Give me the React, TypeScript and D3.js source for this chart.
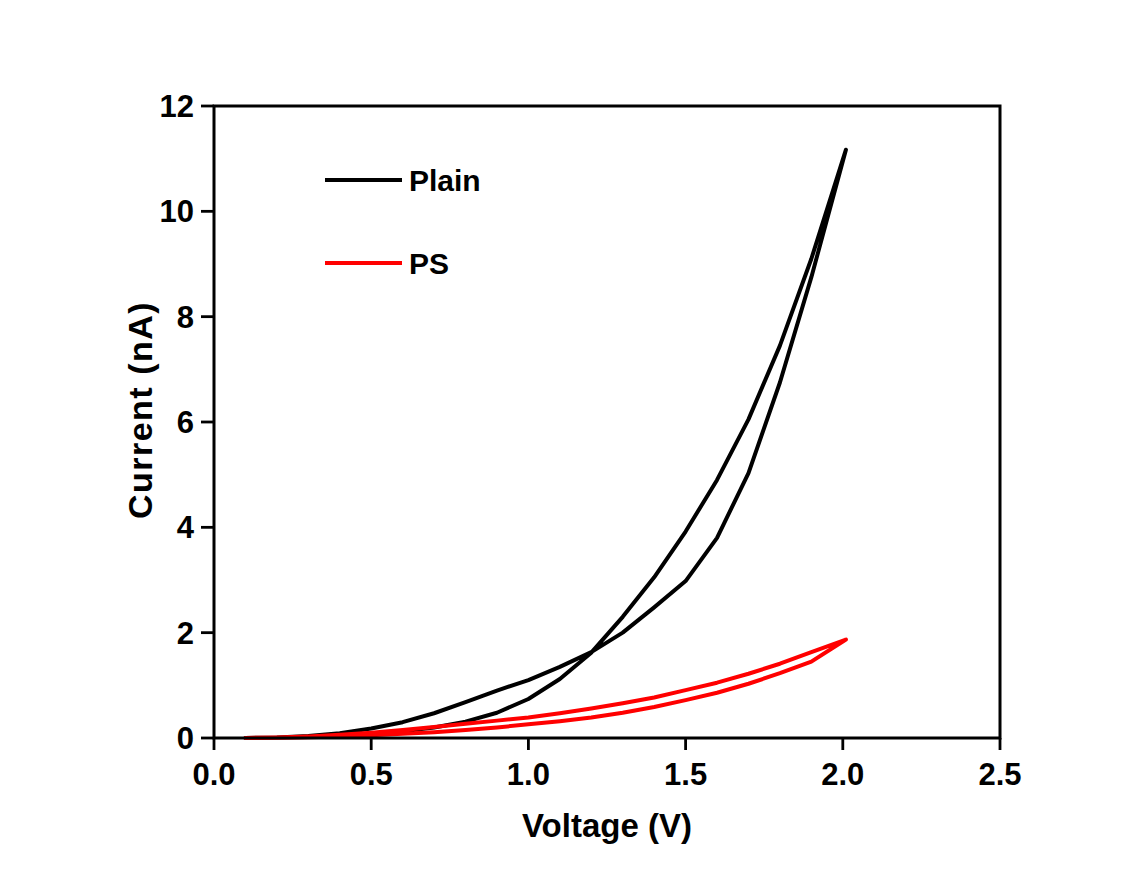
import React from "react";
import * as d3 from "d3";

const voltages = [0.1, 0.2, 0.3, 0.4, 0.5, 0.6, 0.7, 0.8, 0.9, 1.0, 1.1, 1.2, 1.3, 1.4, 1.5, 1.6, 1.7, 1.8, 1.9, 2.01];
// Plain: sweep up (higher at low V) and sweep back (higher at high V)
const plainUp = [0, 0.01, 0.04, 0.09, 0.18, 0.3, 0.47, 0.68, 0.9, 1.1, 1.35, 1.63, 2.0, 2.48, 2.98, 3.8, 5.03, 6.75, 8.75, 11.17];
const plainDown = [0, 0.01, 0.02, 0.04, 0.08, 0.13, 0.2, 0.31, 0.48, 0.74, 1.12, 1.62, 2.3, 3.05, 3.92, 4.9, 6.05, 7.45, 9.1, 11.17];
// PS
const psUp = [0, 0.01, 0.03, 0.06, 0.1, 0.15, 0.21, 0.27, 0.33, 0.39, 0.47, 0.56, 0.66, 0.77, 0.91, 1.05, 1.22, 1.41, 1.63, 1.87];
const psDown = [0, 0.005, 0.015, 0.03, 0.05, 0.08, 0.11, 0.15, 0.2, 0.26, 0.32, 0.39, 0.48, 0.59, 0.72, 0.86, 1.03, 1.23, 1.45, 1.82];

const xTicks = [0.0, 0.5, 1.0, 1.5, 2.0, 2.5];
const yTicks = [0, 2, 4, 6, 8, 10, 12];

const seriesNames = ["Plain", "PS"];
const seriesColors = ["#000000", "#ff0000"];

const FONT = "'Liberation Sans', Arial, Helvetica, sans-serif";

export default function App() {
  const left = 214, right = 1000, top = 106, bottom = 738;
  const x = d3.scaleLinear().domain([0, 2.5]).range([left, right]);
  const y = d3.scaleLinear().domain([0, 12]).range([bottom, top]);

  const line = d3
    .line<[number, number]>()
    .x((d) => x(d[0]))
    .y((d) => y(d[1]))
    .curve(d3.curveLinear);

  const loop = (up: number[], down: number[]): [number, number][] => {
    const a: [number, number][] = voltages.map((v, i) => [v, up[i]]);
    const b: [number, number][] = voltages
      .map((v, i) => [v, down[i]] as [number, number])
      .reverse();
    return a.concat(b.slice(1));
  };

  const loops = [loop(plainUp, plainDown), loop(psUp, psDown)];

  return (
    <svg width={1145} height={877} style={{ position: "absolute", left: 0, top: 0, background: "#fff" }}>
      <rect x={0} y={0} width={1145} height={877} fill="#fff" />
      {loops.map((pts, i) => (
        <path
          key={i}
          d={line(pts) || ""}
          fill="none"
          stroke={seriesColors[i]}
          strokeWidth={4}
          strokeLinejoin="round"
          strokeLinecap="round"
        />
      ))}
      {/* frame */}
      <rect x={left} y={top} width={right - left} height={bottom - top} fill="none" stroke="#000" strokeWidth={3} />
      {/* x ticks */}
      {xTicks.map((t) => (
        <g key={"x" + t}>
          <line x1={x(t)} x2={x(t)} y1={bottom} y2={bottom + 12} stroke="#000" strokeWidth={2.8} />
          <text x={x(t)} y={785} textAnchor="middle" fontFamily={FONT} fontWeight="bold" fontSize={31} fill="#000">
            {t.toFixed(1)}
          </text>
        </g>
      ))}
      {/* y ticks */}
      {yTicks.map((t) => (
        <g key={"y" + t}>
          <line x1={left - 13} x2={left} y1={y(t)} y2={y(t)} stroke="#000" strokeWidth={2.8} />
          <text x={194} y={y(t)} dy="0.36em" textAnchor="end" fontFamily={FONT} fontWeight="bold" fontSize={31} fill="#000">
            {t}
          </text>
        </g>
      ))}
      {/* axis titles */}
      <text x={(left + right) / 2} y={837} textAnchor="middle" fontFamily={FONT} fontWeight="bold" fontSize={33} fill="#000">
        Voltage (V)
      </text>
      <text
        transform={`translate(152, 410) rotate(-90)`}
        textAnchor="middle"
        fontFamily={FONT}
        fontWeight="bold"
        fontSize={34}
        letterSpacing={1.5}
        fill="#000"
      >
        Current (nA)
      </text>
      {/* legend */}
      {seriesNames.map((name, i) => {
        const ly = i === 0 ? 180 : 263;
        return (
          <g key={name}>
            <line x1={325} x2={402} y1={ly} y2={ly} stroke={seriesColors[i]} strokeWidth={4} />
            <text x={409} y={ly + 11} fontFamily={FONT} fontWeight="bold" fontSize={30} fill="#000">
              {name}
            </text>
          </g>
        );
      })}
    </svg>
  );
}
